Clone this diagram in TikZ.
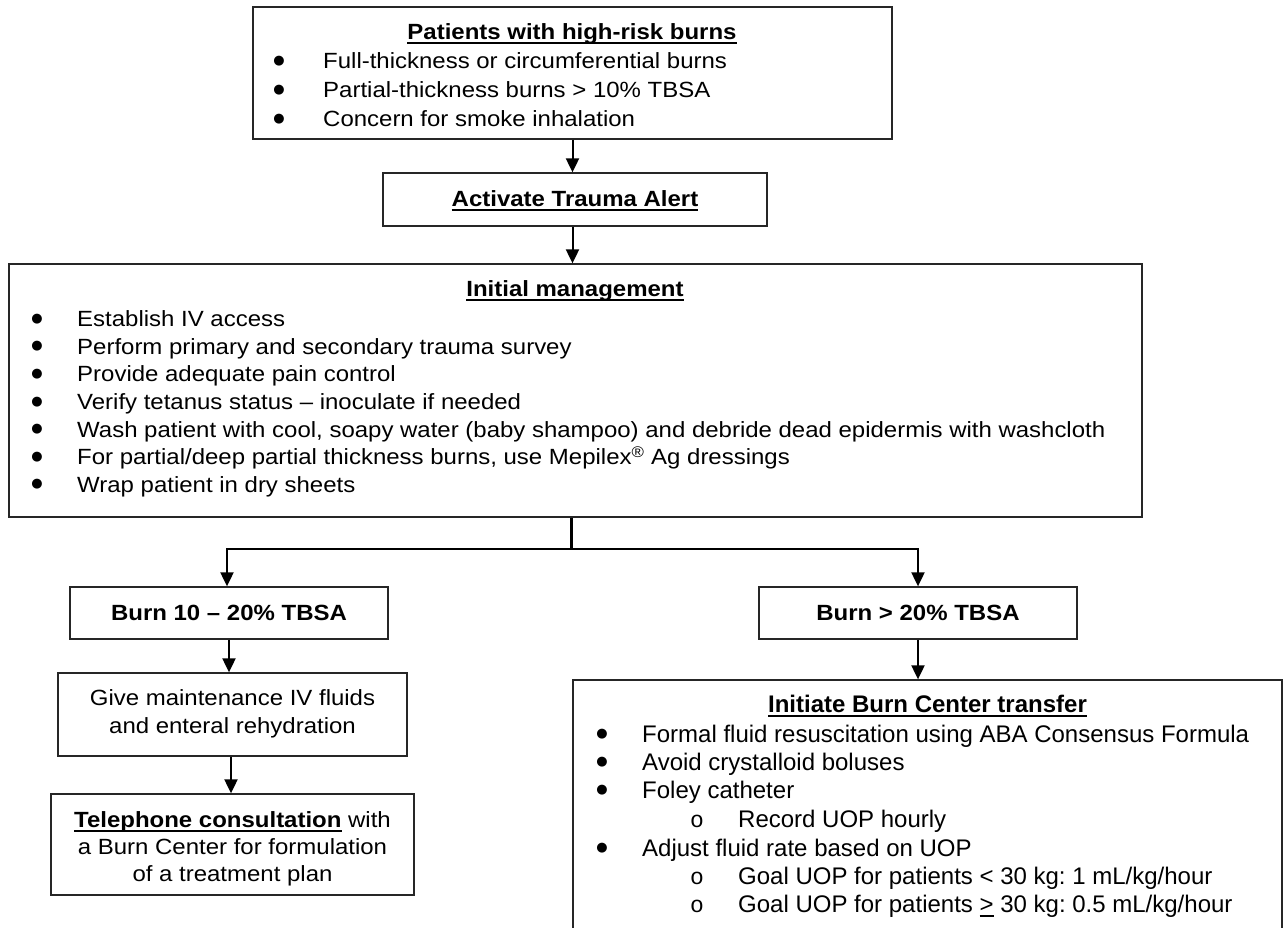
\documentclass[tikz,border=0pt]{standalone}
\usepackage{fontspec}
\setmainfont{Liberation Sans}[FakeStretch=1.09]
\newfontfamily\plainfont{Liberation Sans}
\newfontfamily\subbulletfont{Liberation Mono}
\newfontfamily\dotfont{DejaVu Sans}
\usetikzlibrary{arrows.meta}
\newcommand\myul[1]{\setbox0\hbox{#1}\rlap{\vrule height -2.5pt depth 4.5pt width \wd0}\box0\relax}
\newcommand\bulletmark{\raisebox{4.5pt}{\fontsize{13}{13}\dotfont ●}}
\frenchspacing
\begin{document}
\begin{tikzpicture}[x=1pt,y=-1pt,
  box/.style={draw=black!85, line width=1.3pt, inner sep=0pt, fill=none},
  txt/.style={inner sep=0pt, anchor=base west, font=\fontsize{22}{26}\selectfont},
  ctxt/.style={inner sep=0pt, anchor=base, font=\fontsize{22}{26}\selectfont},
  xtxt/.style={inner sep=0pt, anchor=base west, font=\fontsize{24}{28}\plainfont},
  xctxt/.style={inner sep=0pt, anchor=base, font=\fontsize{24}{28}\plainfont},
  bul/.style={inner sep=0pt, anchor=base},
  sbul/.style={inner sep=0pt, anchor=base, font=\fontsize{23}{24}\subbulletfont},
  arr/.style={draw=black, line width=2pt, -{Triangle[width=13pt,length=14pt]}},
  trunk/.style={draw=black, line width=3pt}]
\useasboundingbox (0,0) rectangle (1286,928);
\clip (0,0) rectangle (1286,928);
\fill[white] (0,0) rectangle (1286,928);

% boxes
\node[box, minimum width=639pt, minimum height=132pt] (top) at (572.5,73) {};
\node[box, minimum width=384pt, minimum height=53pt] (act) at (575,199.5) {};
\node[box, minimum width=1133pt, minimum height=253pt] (init) at (575.5,390.5) {};
\node[box, minimum width=318pt, minimum height=52pt] (bA) at (229,613) {};
\node[box, minimum width=318pt, minimum height=52pt] (bB) at (918,613) {};
\node[box, minimum width=349pt, minimum height=83pt] (give) at (232.5,714.5) {};
\node[box, minimum width=363pt, minimum height=101pt] (tel) at (232.5,844.5) {};
\node[box, minimum width=709pt, minimum height=280pt] (xfer) at (927.5,820) {};

% top box text
\node[ctxt] (topT) at (572,40) {\myul{\textbf{Patients with high-risk burns}}};
\node[bul] (topB1) at (279,69) {\bulletmark};
\node[txt] (topL1) at (323,69) {Full-thickness or circumferential burns};
\node[bul] (topB2) at (279,98) {\bulletmark};
\node[txt] (topL2) at (323,98) {Partial-thickness burns > 10\% TBSA};
\node[bul] (topB3) at (279,127) {\bulletmark};
\node[txt] (topL3) at (323,127) {Concern for smoke inhalation};

% activate
\node[ctxt] (actT) at (575,207) {\myul{\textbf{Activate Trauma Alert}}};

% initial management
\node[ctxt] (initT) at (575,297) {\myul{\textbf{Initial management}}};
\node[bul] (iB1) at (37,326.7) {\bulletmark};
\node[txt] (iL1) at (77,326.7) {Establish IV access};
\node[bul] (iB2) at (37,354.3) {\bulletmark};
\node[txt] (iL2) at (77,354.3) {Perform primary and secondary trauma survey};
\node[bul] (iB3) at (37,381.9) {\bulletmark};
\node[txt] (iL3) at (77,381.9) {Provide adequate pain control};
\node[bul] (iB4) at (37,409.5) {\bulletmark};
\node[txt] (iL4) at (77,409.5) {Verify tetanus status – inoculate if needed};
\node[bul] (iB5) at (37,437.1) {\bulletmark};
\node[txt] (iL5) at (77,437.1) {Wash patient with cool, soapy water (baby shampoo) and debride dead epidermis with washcloth};
\node[bul] (iB6) at (37,464.7) {\bulletmark};
\node[txt] (iL6) at (77,464.7) {For partial/deep partial thickness burns, use Mepilex\textsuperscript{®} Ag dressings};
\node[bul] (iB7) at (37,492.3) {\bulletmark};
\node[txt] (iL7) at (77,492.3) {Wrap patient in dry sheets};

% burn boxes
\node[ctxt] (bAT) at (229,620) {\textbf{Burn 10 – 20\% TBSA}};
\node[ctxt] (bBT) at (918,620) {\textbf{Burn > 20\% TBSA}};

% give
\node[ctxt] (giveL1) at (232.5,705) {Give maintenance IV fluids};
\node[ctxt] (giveL2) at (232.5,733) {and enteral rehydration};

% telephone
\node[ctxt] (telL1) at (232.5,827) {\myul{\textbf{Telephone consultation}} with};
\node[ctxt] (telL2) at (232.5,854) {a Burn Center for formulation};
\node[ctxt] (telL3) at (232.5,881) {of a treatment plan};

% transfer box
\node[xctxt] (xT) at (927.5,712) {\myul{\textbf{Initiate Burn Center transfer}}};
\node[bul] (xB1) at (602,742) {\bulletmark};
\node[xtxt] (xL1) at (642,742) {Formal fluid resuscitation using ABA Consensus Formula};
\node[bul] (xB2) at (602,770) {\bulletmark};
\node[xtxt] (xL2) at (642,770) {Avoid crystalloid boluses};
\node[bul] (xB3) at (602,798) {\bulletmark};
\node[xtxt] (xL3) at (642,798) {Foley catheter};
\node[sbul] (xS1) at (697,827) {o};
\node[xtxt] (xL4) at (738,827) {Record UOP hourly};
\node[bul] (xB4) at (602,856) {\bulletmark};
\node[xtxt] (xL5) at (642,856) {Adjust fluid rate based on UOP};
\node[sbul] (xS2) at (697,884) {o};
\node[xtxt] (xL6) at (738,884) {Goal UOP for patients < 30 kg: 1 mL/kg/hour};
\node[sbul] (xS3) at (697,912) {o};
\node[xtxt] (xL7) at (738,912) {Goal UOP for patients \myul{>} 30 kg: 0.5 mL/kg/hour};

% connectors
\draw[arr] (top.south) -- (top.south |- act.north);
\draw[arr] (top.south |- act.south) -- (top.south |- init.north);
\coordinate (split) at (571,549);
\draw[trunk] (split |- init.south) -- (split);
\draw[arr] (split) -| ([xshift=-2pt]bA.north);
\draw[arr] (split) -| (bB.north);
\draw[arr] (bA.south) -- (bA.south |- give.north);
\draw[arr] ([xshift=2pt]bA.south |- give.south) -- ([xshift=2pt]bA.south |- tel.north);
\draw[arr] (bB.south) -- (bB.south |- xfer.north);
\end{tikzpicture}
\end{document}
